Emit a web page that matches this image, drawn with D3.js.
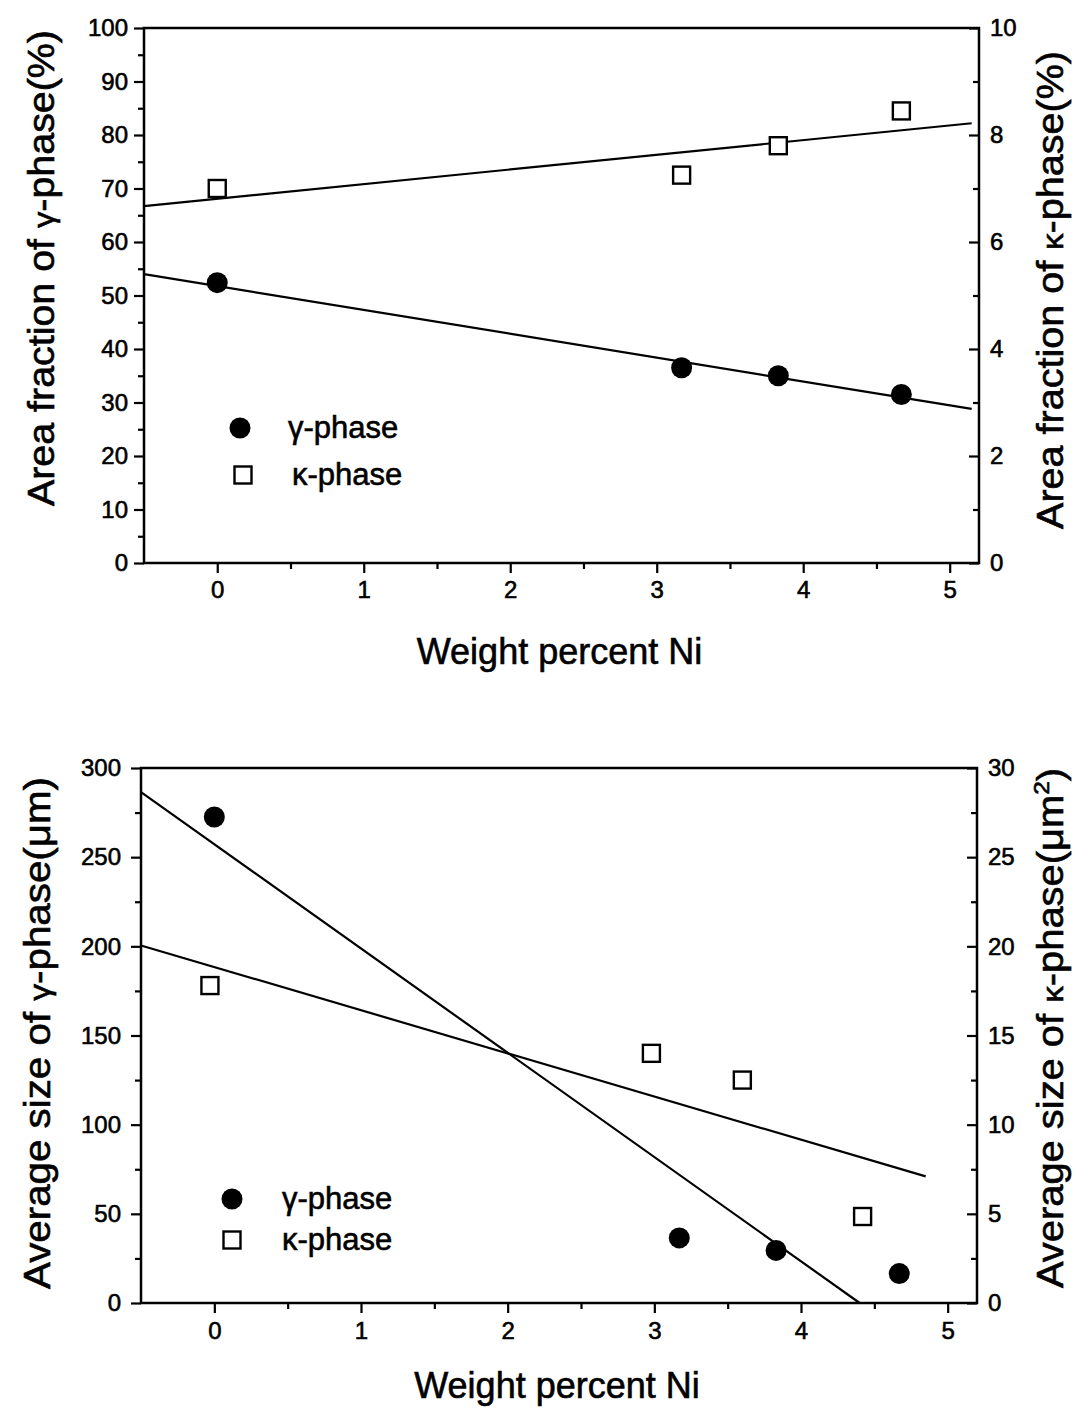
<!DOCTYPE html>
<html><head><meta charset="utf-8">
<script src="https://cdn.jsdelivr.net/npm/d3@7"></script>
<style>
body{margin:0;background:#fff}
svg{display:block}
text{font-family:"Liberation Sans",Arial,Helvetica,sans-serif;fill:#000;stroke:#000;stroke-width:0.6px}
</style>
</head><body>
<svg id="c" width="1090" height="1408"></svg>
<script>
// ---------- data (top panel: area fraction) ----------
const niArea = [0, 3.17, 3.83, 4.67];
const gammaArea = [52.4, 36.5, 35.0, 31.5];      // left axis, %
const kappaArea = [7.0, 7.25, 7.8, 8.45];        // right axis, %
const fitAreaX = [-0.5, 5.15];
const fitGammaArea = [54.0, 28.8];
const fitKappaArea = [6.67, 8.22];

// ---------- data (bottom panel: average size) ----------
const niGammaSize = [0, 3.17, 3.83, 4.67];
const gammaSize = [272.5, 36.5, 29.5, 16.5];     // left axis, µm
const niKappaSize = [-0.03, 2.98, 3.6, 4.42];
const kappaSize = [17.8, 14.0, 12.5, 4.85];      // right axis, µm²
const fitGammaSizeX = [-0.5, 4.4];
const fitGammaSize = [286.5, 0];
const fitKappaSizeX = [-0.5, 4.85];
const fitKappaSize = [20.05, 7.1];

// ---------- ticks ----------
const xTicks = [0, 1, 2, 3, 4, 5];
const xMinor = [0.5, 1.5, 2.5, 3.5, 4.5];
const areaLeftTicks = [0, 10, 20, 30, 40, 50, 60, 70, 80, 90, 100];
const areaLeftMinor = [5, 15, 25, 35, 45, 55, 65, 75, 85, 95];
const areaRightTicks = [0, 2, 4, 6, 8, 10];
const areaRightMinor = [1, 3, 5, 7, 9];
const sizeLeftTicks = [0, 50, 100, 150, 200, 250, 300];
const sizeLeftMinor = [25, 75, 125, 175, 225, 275];
const sizeRightTicks = [0, 5, 10, 15, 20, 25, 30];
const sizeRightMinor = [2.5, 7.5, 12.5, 17.5, 22.5, 27.5];

const svg = d3.select("#c");
svg.append("rect").attr("width", 1090).attr("height", 1408).attr("fill", "#fff");

function panel(cfg) {
  const g = svg.append("g");
  const x = d3.scaleLinear().domain([-0.5, 5.2]).range([cfg.left, cfg.right]);
  const yL = d3.scaleLinear().domain(cfg.yLDomain).range([cfg.bottom, cfg.top]);
  const yR = d3.scaleLinear().domain(cfg.yRDomain).range([cfg.bottom, cfg.top]);

  const styleAxis = sel => {
    sel.select(".domain").remove();
    sel.selectAll("line").attr("stroke", "#000").attr("stroke-width", 2.2);
    sel.selectAll("text").attr("font-size", 24).style("font-family", '"Liberation Sans",Arial,sans-serif');
  };

  g.append("g").attr("transform", `translate(${cfg.left},0)`)
    .call(d3.axisLeft(yL).tickValues(cfg.yLTicks).tickSize(10).tickPadding(cfg.leftPad).tickFormat(d3.format("d")))
    .call(styleAxis);
  g.append("g").attr("transform", `translate(${cfg.left},0)`)
    .call(d3.axisLeft(yL).tickValues(cfg.yLMinor).tickSize(6).tickFormat(""))
    .call(styleAxis);

  g.append("g").attr("transform", `translate(${cfg.right},0)`)
    .call(d3.axisRight(yR).tickValues(cfg.yRTicks).tickSize(-10).tickPadding(11).tickFormat(d3.format("d")))
    .call(styleAxis);
  g.append("g").attr("transform", `translate(${cfg.right},0)`)
    .call(d3.axisRight(yR).tickValues(cfg.yRMinor).tickSize(-6).tickFormat(""))
    .call(styleAxis);

  g.append("g").attr("transform", `translate(0,${cfg.bottom})`)
    .call(d3.axisBottom(x).tickValues(xTicks).tickSize(10).tickPadding(cfg.xPad).tickFormat(d3.format("d")))
    .call(styleAxis);
  g.append("g").attr("transform", `translate(0,${cfg.bottom})`)
    .call(d3.axisBottom(x).tickValues(xMinor).tickSize(6).tickFormat(""))
    .call(styleAxis);

  g.append("rect").attr("x", cfg.left).attr("y", cfg.top)
    .attr("width", cfg.right - cfg.left).attr("height", cfg.bottom - cfg.top)
    .attr("fill", "none").attr("stroke", "#000").attr("stroke-width", 2.5);

  const line = d3.line();
  cfg.fits.forEach(f => {
    const pts = f.xs.map((xv, i) => [x(xv), f.scale === "L" ? yL(f.ys[i]) : yR(f.ys[i])]);
    g.append("path").attr("d", line(pts)).attr("fill", "none").attr("stroke", "#000").attr("stroke-width", 2.2);
  });

  g.selectAll(null).data(cfg.gx.map((v, i) => [v, cfg.gy[i]])).join("circle")
    .attr("cx", d => x(d[0])).attr("cy", d => yL(d[1])).attr("r", 10.5).attr("fill", "#000");

  g.selectAll(null).data(cfg.kx.map((v, i) => [v, cfg.ky[i]])).join("rect")
    .attr("x", d => x(d[0]) - 8.5).attr("y", d => yR(d[1]) - 8.5).attr("width", 17).attr("height", 17)
    .attr("fill", "#fff").attr("stroke", "#000").attr("stroke-width", 2.4);

  g.append("text").attr("x", (cfg.left + cfg.right) / 2 - 2).attr("y", cfg.xTitleY)
    .attr("text-anchor", "middle").attr("font-size", 36).text("Weight percent Ni");

  const tl = g.append("text").attr("transform", `translate(${cfg.yLTitleX},${cfg.yLTitleY}) rotate(-90)`)
    .attr("text-anchor", "middle").attr("font-size", 36);
  cfg.yLTitle.forEach(p => { const t = tl.append("tspan").text(p.t); if (p.s) t.attr("font-size", p.s); if (p.dy) t.attr("dy", p.dy); });
  tl.attr("textLength", cfg.yLLen).attr("lengthAdjust", "spacingAndGlyphs");

  const tr = g.append("text").attr("transform", `translate(${cfg.yRTitleX},${cfg.yRTitleY}) rotate(-90)`)
    .attr("text-anchor", "middle").attr("font-size", 36);
  cfg.yRTitle.forEach(p => { const t = tr.append("tspan").text(p.t); if (p.s) t.attr("font-size", p.s); if (p.dy) t.attr("dy", p.dy); });
  tr.attr("textLength", cfg.yRLen).attr("lengthAdjust", "spacingAndGlyphs");

  const L = cfg.legend;
  g.append("circle").attr("cx", L.cx).attr("cy", L.cy1).attr("r", 10.5).attr("fill", "#000");
  g.append("rect").attr("x", L.sx - 8.5).attr("y", L.cy2 - 8.5).attr("width", 17).attr("height", 17)
    .attr("fill", "#fff").attr("stroke", "#000").attr("stroke-width", 2.4);
  g.append("text").attr("x", L.tx1).attr("y", L.cy1 + 10).attr("font-size", 31).text("γ-phase");
  g.append("text").attr("x", L.tx2).attr("y", L.cy2 + 10).attr("font-size", 31).text("κ-phase");
}

panel({
  left: 144, right: 979, top: 28, bottom: 563,
  yLDomain: [0, 100], yRDomain: [0, 10],
  yLTicks: areaLeftTicks, yLMinor: areaLeftMinor,
  yRTicks: areaRightTicks, yRMinor: areaRightMinor,
  leftPad: 6, xPad: 8,
  gx: niArea, gy: gammaArea, kx: niArea, ky: kappaArea,
  fits: [{xs: fitAreaX, ys: fitGammaArea, scale: "L"}, {xs: fitAreaX, ys: fitKappaArea, scale: "R"}],
  xTitleY: 664,
  yLTitleX: 54, yLTitleY: 268, yLLen: 476,
  yLTitle: [{t: "Area fraction of "}, {t: "γ", s: 30}, {t: "-phase(%)"}],
  yRTitleX: 1063, yRTitleY: 290, yRLen: 478,
  yRTitle: [{t: "Area fraction of "}, {t: "κ", s: 30}, {t: "-phase(%)"}],
  legend: {cx: 240, sx: 243, cy1: 428, cy2: 475, tx1: 288, tx2: 292}
});

panel({
  left: 141, right: 977, top: 768, bottom: 1303,
  yLDomain: [0, 300], yRDomain: [0, 30],
  yLTicks: sizeLeftTicks, yLMinor: sizeLeftMinor,
  yRTicks: sizeRightTicks, yRMinor: sizeRightMinor,
  leftPad: 10, xPad: 9,
  gx: niGammaSize, gy: gammaSize, kx: niKappaSize, ky: kappaSize,
  fits: [{xs: fitGammaSizeX, ys: fitGammaSize, scale: "L"}, {xs: fitKappaSizeX, ys: fitKappaSize, scale: "R"}],
  xTitleY: 1398,
  yLTitleX: 50, yLTitleY: 1033, yLLen: 512,
  yLTitle: [{t: "Average size of "}, {t: "γ", s: 30}, {t: "-phase(μm)"}],
  yRTitleX: 1063, yRTitleY: 1028, yRLen: 520,
  yRTitle: [{t: "Average size of "}, {t: "κ", s: 30}, {t: "-phase(μm"}, {t: "2", s: 22, dy: -14}, {t: ")", dy: 14}],
  legend: {cx: 232, sx: 232, cy1: 1199, cy2: 1240, tx1: 282, tx2: 282}
});
</script>
</body></html>
